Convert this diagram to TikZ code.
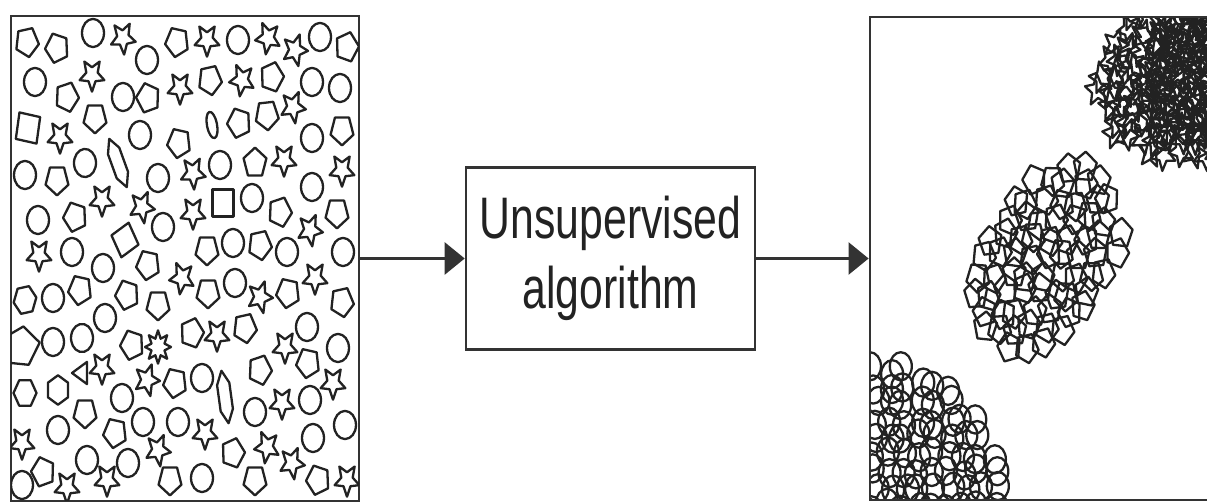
\documentclass[tikz,border=0pt]{standalone}
\usepackage{fontspec}
\newfontfamily\algfont[FakeStretch=0.73]{Liberation Sans}
\usetikzlibrary{arrows.meta}
\definecolor{ink}{HTML}{222222}
\definecolor{frame}{HTML}{333333}
\tikzset{
  shp/.style={line width=1.15pt, draw=ink, line join=round},
  panel/.style={draw=frame, line width=1.4pt, rectangle, inner sep=0pt},
  algobox/.style={draw=frame, line width=1.3pt, rectangle, inner sep=0pt,
    minimum width=144.5pt, minimum height=91pt, align=center,
    font=\algfont\fontsize{29.3pt}{35pt}\selectfont, text=ink},
  flow/.style={draw=frame, line width=1.25pt,
    -{Triangle[length=10pt,width=16pt]}},
}
% outline shapes round the local origin (1 unit = one pixel, before the vertical stretch)
\newcommand\shpC{\draw[shp] (0,0) circle [radius=11];}
\newcommand\shpE{\draw[shp] (0,0) ellipse [x radius=5, y radius=10.5];}
\newcommand\shpP{\draw[shp] (90:12) -- (162:12) -- (234:12) -- (306:12) -- (18:12) -- cycle;}
\newcommand\shpB{\draw[shp,yscale=1.25] (90:16) -- (162:16) -- (234:16) -- (306:16) -- (18:16) -- cycle;}
\newcommand\shpH{\draw[shp] (0:11.5) -- (60:11.5) -- (120:11.5) -- (180:11.5) -- (240:11.5) -- (300:11.5) -- cycle;}
\newcommand\shpL{\draw[shp,xscale=0.55,yscale=1.6] (30:13) -- (90:13) -- (150:13) -- (210:13) -- (270:13) -- (330:13) -- cycle;}
\newcommand\shpQ{\draw[shp] (-10.5,-10.5) rectangle (10.5,10.5);}
\newcommand\shpD{\draw[shp] (45:14) -- (135:14) -- (225:14) -- (315:14) -- cycle;}
\newcommand\shpT{\draw[shp] (180:10) -- (300:10) -- (60:10) -- cycle;}
\newcommand\shpS{\draw[shp] (90:13) -- (126:6) -- (162:13) -- (198:6) -- (234:13) -- (270:6) -- (306:13) -- (342:6) -- (18:13) -- (54:6) -- cycle;}
\newcommand\shpX{\draw[shp] (90:13) -- (112.5:7) -- (135:13) -- (157.5:7) -- (180:13) -- (202.5:7) -- (225:13) -- (247.5:7) -- (270:13) -- (292.5:7) -- (315:13) -- (337.5:7) -- (0:13) -- (22.5:7) -- (45:13) -- (67.5:7) -- cycle;}
\newcommand\placeshape[4]{%
  \begin{scope}[shift={(#2,#3)}, yscale=1.28, rotate=#4]\csname shp#1\endcsname\end{scope}}

\begin{document}
\begin{tikzpicture}[x=0.5pt,y=-0.5pt]
\clip (0,0) rectangle (1207,502);
\fill[white] (0,0) rectangle (1207,502);

% frames and the algorithm box
\node[panel, minimum width=174pt, minimum height=242.5pt] (inbox) at (185,258.5) {};
\node[algobox] (algo) at (610.5,258.5) {Unsupervised\\algorithm};
\node[panel, minimum width=175pt, minimum height=241.5pt] (outbox) at (1045,258.5) {};

% mixed objects, scattered
\begin{scope}
\clip (11,16) rectangle (359,501);
\foreach \t/\x/\y/\r in {
  P/27/42/10, P/57/48/-15, C/93/33/0, S/123/38/5, C/147/60/0, P/177/42/-10,
  S/207/40/0, C/238/40/0, S/268/38/-10, S/295/50/15, C/320/37/0, P/347/47/20,
  C/35/82/0, S/92/75/0, P/67/97/15, C/123/97/0, P/148/98/-20, S/180/88/0,
  P/210/80/10, S/242/80/-10, P/272/77/20, C/312/82/0, C/340/88/0, S/293/107/10,
  Q/28/128/-10, S/60/137/0, P/95/118/0, C/140/135/0, E/212/125/15, P/239/123/-15,
  P/267/115/5, C/312/138/0, P/342/130/0, P/179/143/-10,
  C/25/175/0, P/57/180/0, C/85/163/5, L/118/163/25, C/158/178/0, S/193/173/5,
  C/220/165/0, P/255/163/180, S/284/160/0, C/312/187/0, S/342/170/0,
  C/38/220/0, P/75/217/-15, S/102/200/0, S/142/207/10, D/125/240/30, C/163/227/0,
  S/193/213/0, Q/223/203/0, C/252/198/0, P/280/212/15, S/310/230/10, P/337/213/0,
  S/39/255/0, C/72/252/0, C/103/268/0, P/148/265/-10, P/207/250/0, C/233/243/0,
  P/260/245/10, C/287/252/0, C/343/252/0,
  H/25/300/10, C/53/298/0, P/80/290/-10, C/105/318/0, P/127/295/-15, P/158/305/0,
  S/182/278/-10, P/208/293/0, C/235/283/0, S/260/297/15, P/288/293/-10,
  S/315/278/0, P/342/302/10,
  B/20/347/100, C/53/342/0, C/82/338/-12, P/132/345/-15, X/158/347/0, P/192/333/20,
  S/217/335/0, P/245/328/10, C/307/327/0, S/285/347/0, C/338/348/0, P/308/363/-10,
  H/25/393/0, H/58/390/30, T/82/373/0, S/102/368/0, S/147/380/15, C/122/398/0,
  P/175/383/-10, C/202/378/0, L/225/397/10, P/260/370/15, C/255/412/0,
  S/282/403/0, C/310/400/0, S/333/383/0,
  S/22/443/0, C/58/430/0, P/85/413/0, P/115/433/-10, C/143/422/0, C/178/422/0,
  S/205/433/0, S/158/450/10, P/233/453/20, S/267/447/-10, S/292/463/10,
  C/313/438/0, C/345/425/0,
  C/22/485/0, P/43/472/-20, C/87/460/0, S/67/487/0, C/128/463/0, S/107/480/0,
  P/170/480/0, C/202/478/0, P/255/480/0, P/318/480/-15, S/347/480/0}
  {\placeshape{\t}{\x}{\y}{\r}}
\end{scope}

% the same objects, grouped into three clusters (jittered grids)
\pgfmathsetseed{2024}
\begin{scope}
\clip (870,17) rectangle (1220,500);
% pentagons
\foreach \i in {-5,...,5}{\foreach \j in {-6,...,6}{
  \pgfmathsetmacro\u{\i*16+(rnd-0.5)*9}
  \pgfmathsetmacro\v{\j*18+(rnd-0.5)*10}
  \pgfmathsetmacro\inside{(\u/70)^2+(\v/94)^2<1 ? 1 : 0}
  \pgfmathsetmacro\rot{rnd*72}
  \pgfmathsetmacro\px{1048+\u-0.25*\v}
  \pgfmathsetmacro\py{256+\v}
  \ifdim\inside pt>0.5pt \placeshape{P}{\px}{\py}{\rot}\fi
}}
% stars: a regular layer, then a denser core towards the right edge
\foreach \i in {-8,...,8}{\foreach \j in {-7,...,7}{
  \pgfmathsetmacro\u{\i*14+(rnd-0.5)*8}
  \pgfmathsetmacro\v{\j*15+(rnd-0.5)*8}
  \pgfmathsetmacro\inside{(\u/105)^2+(\v/98)^2<1 ? 1 : 0}
  \pgfmathsetmacro\rot{rnd*72}
  \pgfmathsetmacro\px{1205+\u-0.3*\v}
  \pgfmathsetmacro\py{62+\v}
  \ifdim\inside pt>0.5pt \placeshape{S}{\px}{\py}{\rot}\fi
}}
\foreach \i in {-4,...,3}{\foreach \j in {-4,...,5}{
  \pgfmathsetmacro\u{\i*14+7+(rnd-0.5)*8}
  \pgfmathsetmacro\v{\j*15+7+(rnd-0.5)*8}
  \pgfmathsetmacro\inside{(\u/60)^2+(\v/75)^2<1 ? 1 : 0}
  \pgfmathsetmacro\rot{rnd*72}
  \pgfmathsetmacro\px{1205+\u-0.3*\v}
  \pgfmathsetmacro\py{62+\v}
  \ifdim\inside pt>0.5pt \placeshape{S}{\px}{\py}{\rot}\fi
}}
% circles
\foreach \i in {0,...,9}{\foreach \j in {0,...,9}{
  \pgfmathsetmacro\u{\i*15+(rnd-0.5)*9}
  \pgfmathsetmacro\v{\j*17+(rnd-0.5)*9}
  \pgfmathsetmacro\inside{(\u/128)^2+(\v/144)^2<1 ? 1 : 0}
  \pgfmathsetmacro\px{874+\u}
  \pgfmathsetmacro\py{506-\v}
  \ifdim\inside pt>0.5pt \placeshape{C}{\px}{\py}{0}\fi
}}
\end{scope}
\node[panel, minimum width=175pt, minimum height=241.5pt] at (outbox.center) {};

% flow
\draw[flow] (inbox.east) -- (algo.west);
\draw[flow] (algo.east) -- (outbox.west);
\end{tikzpicture}
\end{document}
